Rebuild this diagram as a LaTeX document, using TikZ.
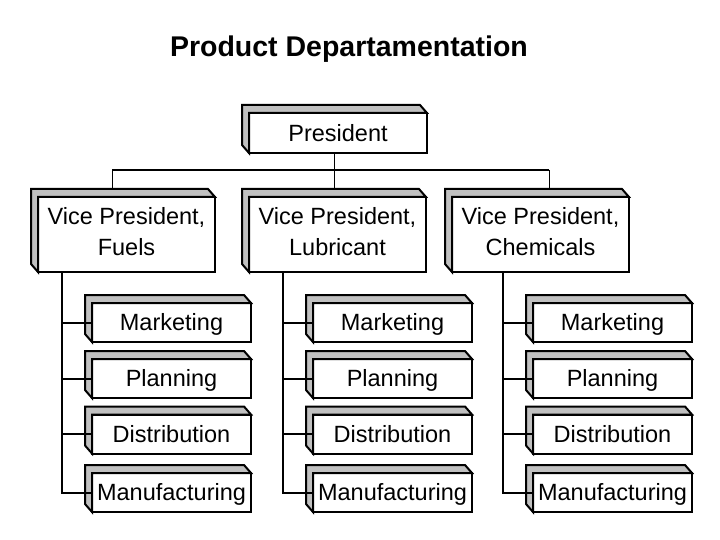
\documentclass[tikz,border=0pt]{standalone}
\usepackage{fontspec}
\setmainfont{Liberation Sans}
\usetikzlibrary{calc}

\definecolor{sidegray}{RGB}{192,192,192}
\tikzset{
  deptbox/.style={draw, line width=2pt, fill=white, inner sep=0pt, outer sep=0pt,
    font=\fontsize{23.5}{31.7}\selectfont, align=center, text height=16.8pt, text depth=0pt},
  vpbox/.style={deptbox, minimum width=177pt, minimum height=75pt, text height=48.5pt, text depth=6pt},
  unitbox/.style={deptbox, minimum width=159pt, minimum height=39pt},
  sideface/.style={draw, line width=2pt, fill=sidegray, line join=miter},
  bus/.style={line width=2pt},
  drop/.style={line width=1pt}
}

\begin{document}
\begin{tikzpicture}[x=1pt,y=-1pt]
  \newcommand{\depthside}[1]{
    \draw[sideface] (#1.south west) -- ++(-7,-8) -- ($(#1.north west)+(-7,-8)$)
      -- ($(#1.north east)+(-7,-8)$) -- (#1.north east) -- (#1.north west) -- cycle;
  }

  \useasboundingbox[fill=white] (0,0) rectangle (720,540);

  \node[font=\fontsize{28.5}{30}\selectfont\bfseries, anchor=base] (title) at (349,57)
    {Product Departamentation};

  % president
  \node[deptbox, minimum width=178pt, minimum height=40pt] (pres) at (338,133) {President};
  \depthside{pres}

  % bus under the president
  \coordinate (bus1) at (112,170);
  \coordinate (bus2) at (334,170);
  \coordinate (bus3) at (549,170);
  \draw[bus] (bus1) -- (bus3);
  \draw[drop] (bus2 |- pres.south) -- (bus2);

  % one column per vice president
  \foreach \i/\vx/\sx/\name in {1/126.5/62/Fuels, 2/337.5/283/Lubricant, 3/540.5/503/Chemicals} {
    \node[vpbox] (vp\i) at (\vx,234.5) {Vice President,\\ \name};
    \depthside{vp\i}
    \coordinate (vp\i top) at ($(vp\i.north)+(0,-8)$);
    \draw[drop] (bus\i) -- (bus\i |- vp\i top);

    \coordinate (spine\i) at (\sx,272);
    \foreach \j/\cy/\unit in {1/322.5/Marketing, 2/378.5/Planning, 3/434/Distribution, 4/492.5/Manufacturing} {
      \node[unitbox] (c\i-\j) at ({\sx+109.5},\cy) {\unit};
      \depthside{c\i-\j}
    }
    \draw[bus] (spine\i |- vp\i.south) -- (spine\i |- c\i-4.west) -- (c\i-4.west);
    \foreach \j in {1,2,3} {
      \draw[bus] (spine\i |- c\i-\j.west) -- (c\i-\j.west);
    }
  }
\end{tikzpicture}
\end{document}
